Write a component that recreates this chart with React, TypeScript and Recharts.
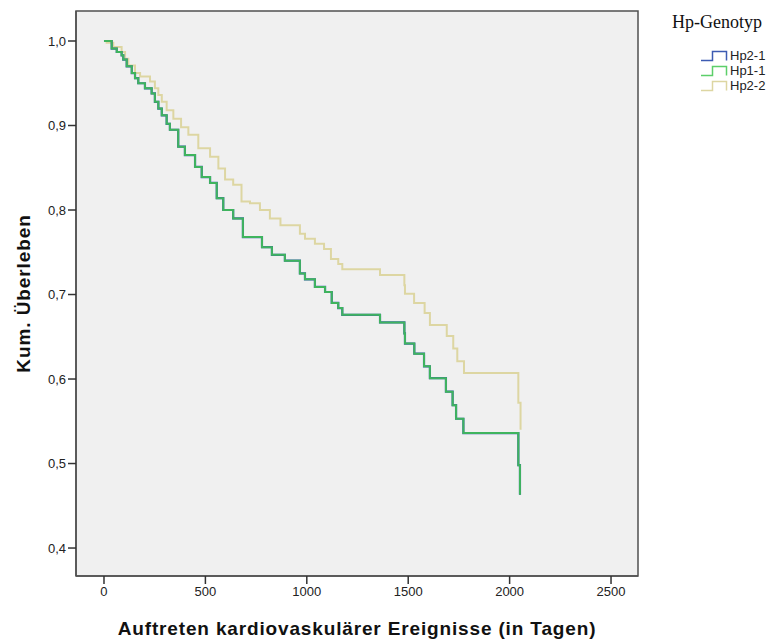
import { LineChart, Line, XAxis, YAxis, ReferenceArea, Label } from 'recharts';

// Kaplan-Meier steps (days, cumulative survival)
const hp11Days = [0, 38, 63, 87, 95, 112, 137, 153, 169, 202, 235, 251, 268, 285, 309, 325, 366, 399, 449, 482, 523, 556, 588, 637, 685, 779, 828, 892, 966, 991, 1040, 1090, 1123, 1155, 1175, 1361, 1481, 1484, 1530, 1578, 1607, 1686, 1719, 1736, 1772, 2043, 2051];
const hp11Surv = [1.0, 0.991, 0.987, 0.983, 0.978, 0.97, 0.962, 0.956, 0.95, 0.944, 0.938, 0.928, 0.92, 0.912, 0.902, 0.895, 0.875, 0.865, 0.851, 0.839, 0.832, 0.814, 0.8, 0.79, 0.768, 0.756, 0.747, 0.74, 0.725, 0.718, 0.709, 0.703, 0.69, 0.684, 0.676, 0.667, 0.654, 0.642, 0.63, 0.615, 0.601, 0.585, 0.569, 0.553, 0.536, 0.498, 0.463];

// Hp2-1 lies underneath Hp1-1 in the picture (same steps)
const hp21Days = hp11Days;
const hp21Surv = hp11Surv;

const hp22Days = [0, 13, 46, 87, 104, 120, 153, 178, 227, 251, 268, 285, 309, 342, 380, 416, 465, 523, 564, 597, 637, 678, 720, 769, 818, 870, 966, 991, 1040, 1085, 1119, 1155, 1175, 1361, 1481, 1484, 1529, 1581, 1607, 1690, 1722, 1742, 1775, 2043, 2054];
const hp22Surv = [1.0, 0.998, 0.993, 0.987, 0.979, 0.971, 0.962, 0.958, 0.952, 0.944, 0.936, 0.928, 0.918, 0.908, 0.898, 0.889, 0.873, 0.863, 0.849, 0.836, 0.83, 0.81, 0.808, 0.8, 0.79, 0.782, 0.772, 0.766, 0.76, 0.754, 0.742, 0.736, 0.73, 0.723, 0.711, 0.701, 0.69, 0.678, 0.664, 0.651, 0.636, 0.621, 0.607, 0.572, 0.54];

const xTicks = [0, 500, 1000, 1500, 2000, 2500];
const yTicks = [0.4, 0.5, 0.6, 0.7, 0.8, 0.9, 1.0];
const xDomain = [-138, 2633];
const yDomain = [0.3669, 1.0355];

const legendTitle = 'Hp-Genotyp';
const legendNames = ['Hp2-1', 'Hp1-1', 'Hp2-2'];
const legendColors = ['#3d5bb2', '#5ccf6a', '#ddd6a2'];

const toRows = (days: number[], surv: number[]) => days.map((t, i) => ({ t, s: surv[i] }));

const hp21 = toRows(hp21Days, hp21Surv);
const hp11 = toRows(hp11Days, hp11Surv);
const hp22 = toRows(hp22Days, hp22Surv);

const sans = 'Liberation Sans, Arial, sans-serif';
const tickFont = { fontFamily: sans, fontSize: 13, fill: '#222' };

const YTitle = (props: any) => {
  const { viewBox } = props;
  const cx = 23;
  const cy = viewBox.y + viewBox.height / 2;
  return (
    <text x={cx} y={cy} transform={`rotate(-90 ${cx} ${cy})`} textAnchor="middle" dominantBaseline="central"
      fontFamily={sans} fontSize={19} fontWeight="bold" letterSpacing={0.9} fill="#111">
      Kum. Überleben
    </text>
  );
};

const XTitle = (props: any) => {
  const { viewBox } = props;
  const cx = viewBox.x + viewBox.width / 2;
  return (
    <text x={cx} y={628} textAnchor="middle" dominantBaseline="central"
      fontFamily={sans} fontSize={19} fontWeight="bold" letterSpacing={0.85} fill="#111">
      Auftreten kardiovaskulärer Ereignisse (in Tagen)
    </text>
  );
};

function StepIcon({ color }: { color: string }) {
  return (
    <svg width={28} height={12} style={{ display: 'block' }}>
      <path d="M1 10.5 H12.5 V1.5 H26.5 V10.5" fill="none" stroke={color} strokeWidth={1.5} />
    </svg>
  );
}

export default function App() {
  return (
    <div style={{ position: 'absolute', left: 0, top: 0, width: 773, height: 639, background: '#fff' }}>
      <LineChart width={773} height={639} margin={{ top: 11, right: 135, bottom: 33, left: 16 }}>
        <ReferenceArea x1={xDomain[0]} x2={xDomain[1]} y1={yDomain[0]} y2={yDomain[1]}
          fill="#f0f0f0" fillOpacity={1} stroke="#505050" strokeWidth={1.5} ifOverflow="visible" />
        <XAxis type="number" dataKey="t" domain={xDomain} ticks={xTicks} allowDataOverflow
          height={30} tickSize={8} tickMargin={3} tick={tickFont}
          axisLine={{ stroke: '#505050', strokeWidth: 1.5 }} tickLine={{ stroke: '#333', strokeWidth: 1.5 }}>
          <Label content={<XTitle />} />
        </XAxis>
        <YAxis type="number" domain={yDomain} ticks={yTicks} allowDataOverflow
          width={60} tickSize={8} tickMargin={2} tick={tickFont}
          tickFormatter={(v: number) => v.toFixed(1).replace('.', ',')}
          axisLine={{ stroke: '#505050', strokeWidth: 1.5 }} tickLine={{ stroke: '#333', strokeWidth: 1.5 }}>
          <Label content={<YTitle />} />
        </YAxis>
        <Line data={hp22} dataKey="s" type="stepAfter" stroke="#ddd6a2" strokeWidth={2}
          dot={false} activeDot={false} isAnimationActive={false} />
        <Line data={hp21} dataKey="s" type="stepAfter" stroke="#3d5bb2" strokeWidth={2.2}
          dot={false} activeDot={false} isAnimationActive={false} />
        <Line data={hp11} dataKey="s" type="stepAfter" stroke="#3fb45e" strokeWidth={2}
          dot={false} activeDot={false} isAnimationActive={false} />
      </LineChart>

      <div style={{ position: 'absolute', left: 672, top: 12, fontFamily: 'Liberation Serif, Times New Roman, serif', fontSize: 18, color: '#111', lineHeight: '20px' }}>
        {legendTitle}
      </div>
      <div style={{ position: 'absolute', left: 700, top: 48 }}>
        {legendNames.map((name, i) => (
          <div key={name} style={{ display: 'flex', alignItems: 'center', height: 15 }}>
            <StepIcon color={legendColors[i]} />
            <span style={{ marginLeft: 2, fontFamily: sans, fontSize: 13, color: '#222', lineHeight: '15px' }}>
              {name}
            </span>
          </div>
        ))}
      </div>
    </div>
  );
}
